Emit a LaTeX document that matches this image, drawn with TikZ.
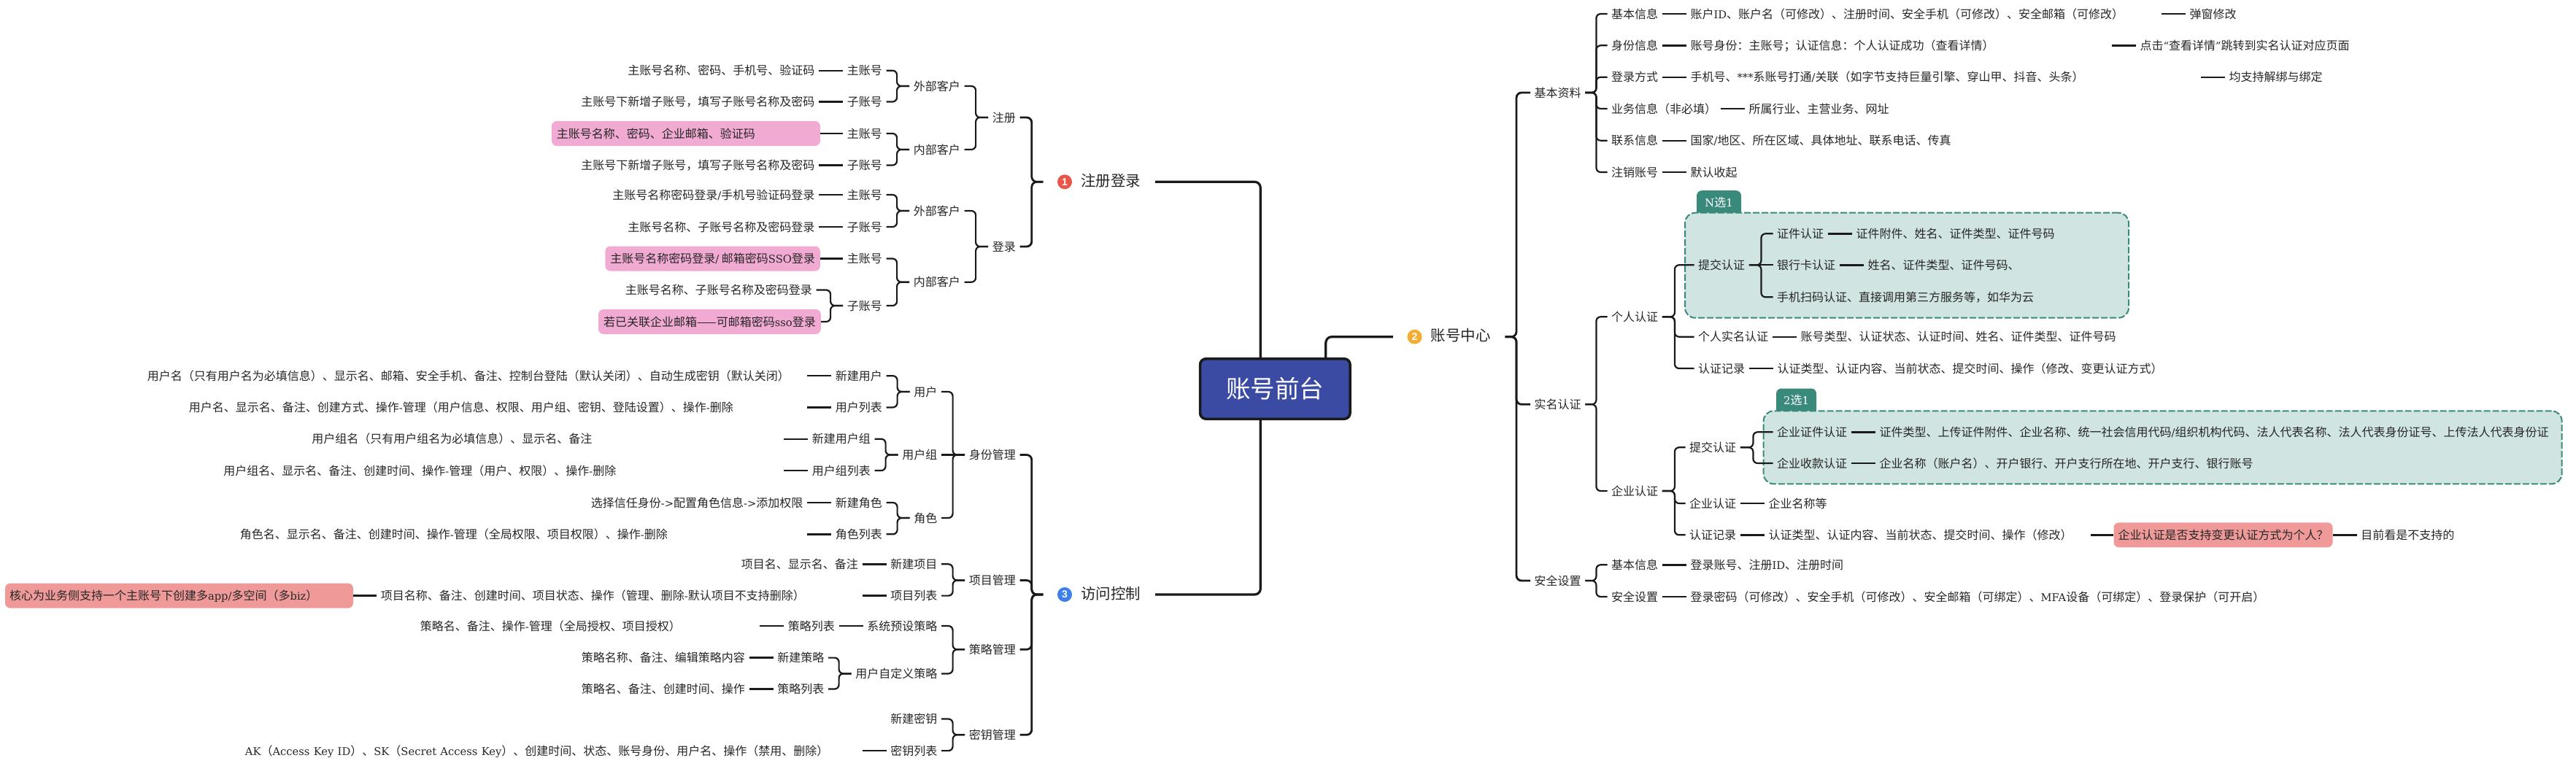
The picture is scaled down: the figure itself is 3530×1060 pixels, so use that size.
\documentclass[tikz,border=0pt]{standalone}
\usepackage{fontspec}
\setmainfont{Noto Sans CJK SC}
\newfontfamily\latf[Scale=0.92]{DejaVu Serif}
\newfontfamily\bulf{Liberation Sans}
\usetikzlibrary{positioning}
\definecolor{tc}{HTML}{262626}
\definecolor{lc}{HTML}{1A1A1A}
\definecolor{pkc}{HTML}{F1ABD3}
\definecolor{rdc}{HTML}{F09999}
\definecolor{grc}{HTML}{D0E4E1}
\definecolor{tagc}{HTML}{3A8A7C}
\definecolor{rootc}{HTML}{3B4BA3}
\definecolor{bua}{HTML}{E8574A}
\definecolor{bub}{HTML}{F5AD31}
\definecolor{buc}{HTML}{3F7FEA}
\newcommand{\lat}[1]{{\latf #1}}

\begin{document}
\begin{tikzpicture}[
  x=1pt, y=-1pt,
  font=\fontsize{16pt}{20pt}\selectfont,
  n/.style={align=left, inner xsep=5.5pt, inner ysep=2pt, text height=14pt, text depth=2pt, text=tc},
  tw/.style={text width=#1pt},
  pk/.style={n, fill=pkc, rounded corners=7pt, inner xsep=7pt, minimum height=34pt},
  rd/.style={n, fill=rdc, rounded corners=7pt, inner xsep=6pt, minimum height=34pt},
  big/.style={n, font=\fontsize{20.5pt}{24pt}\selectfont, inner xsep=19.5pt, anchor=east},
  bul/.style={circle, fill=#1, text=white, minimum size=20pt, inner sep=0pt, font=\bulf\bfseries\fontsize{14pt}{14pt}\selectfont},
  rootn/.style={fill=rootc, draw=lc, line width=3.5pt, rounded corners=8pt, text=white, minimum width=205.5pt, minimum height=82.5pt, font=\fontsize{33.5pt}{38pt}\selectfont},
  gr/.style={fill=grc, draw=tagc, line width=2pt, dash pattern=on 9pt off 3pt, rounded corners=14pt, inner sep=0pt},
  tag/.style={fill=tagc, text=white, rounded corners=7pt, anchor=north, inner xsep=0pt, inner ysep=8pt, text height=14pt, text depth=8pt},
  main/.style={draw=lc, line width=3.2pt, rounded corners=8pt},
  br1/.style={draw=lc, line width=2.8pt, rounded corners=7pt},
  br/.style={draw=lc, line width=2.2pt, rounded corners=6pt},
  arr/.style={draw=lc, line width=2.4pt}
]
\useasboundingbox (0,0) rectangle (3530,1060);

\node[tag, minimum width=61pt] (tag1) at (2355.5,261) {\lat{N}选\lat{1}};
\node[gr, minimum width=608pt, minimum height=144pt] (gr1) at (2613,363.7) {};
\node[tag, minimum width=55pt] (tag2) at (2461.5,532.3) {\lat{2}选\lat{1}};
\node[gr, minimum width=1094pt, minimum height=100pt] (gr2) at (2963.6,613.3) {};

\node[rootn] (root) at (1747.3,533) {账号前台};

\node[big] (zc) at (1583,249.3) {注册登录};
\node[bul=bua, left=-7.6pt of zc] (b1) {1};
\coordinate[left=19.5pt of b1] (s1);
\node[big] (fw) at (1583,815) {访问控制};
\node[bul=buc, left=-7.6pt of fw] (b3) {3};
\coordinate[left=19.5pt of b3] (s3);
\node[big] (zh) at (2062.5,461.7) {账号中心};
\node[bul=bub, left=-7.6pt of zh] (b2) {2};
\coordinate[left=19.5pt of b2] (s2);
\draw[main] ([xshift=-20pt]root.north) |- (zc.east);
\draw[main] ([xshift=-20pt]root.south) |- (fw.east);
\draw[main] ([xshift=69.5pt]root.north) |- (s2);

\node[n, anchor=east] (reg) at (1397.5,161) {注册};
\node[n, anchor=east] (dl) at (1397.5,338) {登录};
\foreach \ch in {reg,dl} \draw[br1] (s1) -- ++(-15.5,0) |- (\ch.east);
\node[n, anchor=east] (wb1) at (1321.5,118) {外部客户};
\node[n, anchor=east] (nb1) at (1321.5,205) {内部客户};
\node[n, anchor=east] (wb2) at (1321.5,289) {外部客户};
\node[n, anchor=east] (nb2) at (1321.5,386.7) {内部客户};
\foreach \ch in {wb1,nb1} \draw[br] (reg.west) -- ++(-17,0) |- (\ch.east);
\foreach \ch in {wb2,nb2} \draw[br] (dl.west) -- ++(-17,0) |- (\ch.east);
\node[n, anchor=east] (a1) at (1214.5,96.7) {主账号};
\node[n, anchor=east] (a2) at (1214.5,139.5) {子账号};
\node[n, anchor=east] (a3) at (1214.5,183) {主账号};
\node[n, anchor=east] (a4) at (1214.5,226.5) {子账号};
\node[n, anchor=east] (a5) at (1214.5,267) {主账号};
\node[n, anchor=east] (a6) at (1214.5,311) {子账号};
\node[n, anchor=east] (a7) at (1214.5,354.5) {主账号};
\node[n, anchor=east] (a8) at (1214.5,419) {子账号};
\foreach \ch in {a1,a2} \draw[br] (wb1.west) -- ++(-17,0) |- (\ch.east);
\foreach \ch in {a3,a4} \draw[br] (nb1.west) -- ++(-17,0) |- (\ch.east);
\foreach \ch in {a5,a6} \draw[br] (wb2.west) -- ++(-17,0) |- (\ch.east);
\foreach \ch in {a7,a8} \draw[br] (nb2.west) -- ++(-17,0) |- (\ch.east);
\node[n, left=33pt of a1] (d1) {主账号名称、密码、手机号、验证码};
\node[n, left=33pt of a2] (d2) {主账号下新增子账号，填写子账号名称及密码};
\node[pk, tw=354, left=31pt of a3] (d3) {主账号名称、密码、企业邮箱、验证码};
\node[n, left=33pt of a4] (d4) {主账号下新增子账号，填写子账号名称及密码};
\node[n, left=33pt of a5] (d5) {主账号名称密码登录\lat{/}手机号验证码登录};
\node[n, left=33pt of a6] (d6) {主账号名称、子账号名称及密码登录};
\node[pk, left=31pt of a7] (d7) {主账号名称密码登录\lat{/} 邮箱密码\lat{SSO}登录};
\foreach \k in {1,...,7} \draw[arr] (d\k) -- (a\k);
\node[n, anchor=east] (d8) at (1118.5,397.5) {主账号名称、子账号名称及密码登录};
\node[pk, anchor=east] (d9) at (1125,441) {若已关联企业邮箱——可邮箱密码\lat{sso}登录};
\foreach \ch in {d8,d9} \draw[br] (a8.west) -- ++(-17,0) |- (\ch.east);

\node[n, anchor=east] (sf) at (1397.5,623.5) {身份管理};
\node[n, anchor=east] (xm) at (1397.5,795.5) {项目管理};
\node[n, anchor=east] (cl) at (1397.5,890.3) {策略管理};
\node[n, anchor=east] (my) at (1397.5,1007.3) {密钥管理};
\foreach \ch in {sf,xm,cl,my} \draw[br1] (s3) -- ++(-15.5,0) |- (\ch.east);
\node[n, anchor=east] (yh) at (1290,537) {用户};
\node[n, anchor=east] (yhz) at (1290,623.5) {用户组};
\node[n, anchor=east] (js) at (1290,710) {角色};
\foreach \ch in {yh,js} \draw[br] (sf.west) -- ++(-16.5,0) |- (\ch.east);
\draw[br] (sf) -- (yhz);
\node[n, anchor=east] (xjyh) at (1214.5,515.2) {新建用户};
\node[n, anchor=east] (yhlb) at (1214.5,558.4) {用户列表};
\node[n, anchor=east] (xjz) at (1198.5,601.7) {新建用户组};
\node[n, anchor=east] (zlb) at (1198.5,645) {用户组列表};
\node[n, anchor=east] (xjjs) at (1214.5,689) {新建角色};
\node[n, anchor=east] (jslb) at (1214.5,732.3) {角色列表};
\foreach \ch in {xjyh,yhlb} \draw[br] (yh.west) -- ++(-17,0) |- (\ch.east);
\foreach \ch in {xjz,zlb} \draw[br] (yhz.west) -- ++(-17,0) |- (\ch.east);
\foreach \ch in {xjjs,jslb} \draw[br] (js.west) -- ++(-17,0) |- (\ch.east);
\node[n, tw=898.5, left=33pt of xjyh] (xjyhd) {用户名（只有用户名为必填信息）、显示名、邮箱、安全手机、备注、控制台登陆（默认关闭）、自动生成密钥（默认关闭）};
\node[n, tw=841.5, left=33pt of yhlb] (yhlbd) {用户名、显示名、备注、创建方式、操作\lat{-}管理（用户信息、权限、用户组、密钥、登陆设置）、操作\lat{-}删除};
\node[n, tw=641, left=33pt of xjz] (xjzd) {用户组名（只有用户组名为必填信息）、显示名、备注};
\node[n, tw=762, left=33pt of zlb] (zlbd) {用户组名、显示名、备注、创建时间、操作\lat{-}管理（用户、权限）、操作\lat{-}删除};
\node[n, left=33pt of xjjs] (xjjsd) {选择信任身份\lat{->}配置角色信息\lat{->}添加权限};
\node[n, tw=771.5, left=33pt of jslb] (jslbd) {角色名、显示名、备注、创建时间、操作\lat{-}管理（全局权限、项目权限）、操作\lat{-}删除};
\foreach \k in {xjyh,yhlb,xjz,zlb,xjjs,jslb} \draw[arr] (\k d) -- (\k);

\node[n, anchor=east] (xjxm) at (1290,773.3) {新建项目};
\node[n, anchor=east] (xmlb) at (1290,816.6) {项目列表};
\foreach \ch in {xjxm,xmlb} \draw[br] (xm.west) -- ++(-16.5,0) |- (\ch.east);
\node[n, left=33pt of xjxm] (xjxmd) {项目名、显示名、备注};
\node[n, tw=654, left=33pt of xmlb] (xmlbd) {项目名称、备注、创建时间、项目状态、操作（管理、删除\lat{-}默认项目不支持删除）};
\node[rd, tw=465, left=32pt of xmlbd] (hx) {核心为业务侧支持一个主账号下创建多\lat{app/}多空间（多\lat{biz}）};
\draw[arr] (xjxmd) -- (xjxm);
\draw[arr] (xmlbd) -- (xmlb);
\draw[arr] (hx) -- (xmlbd);

\node[n, anchor=east] (xt) at (1290,858) {系统预设策略};
\node[n, anchor=east] (zdy) at (1290,923.4) {用户自定义策略};
\foreach \ch in {xt,zdy} \draw[br] (cl.west) -- ++(-16.5,0) |- (\ch.east);
\node[n, left=33pt of xt] (cllb) {策略列表};
\node[n, tw=459.6, left=33pt of cllb] (cllbd) {策略名、备注、操作\lat{-}管理（全局授权、项目授权）};
\draw[arr] (cllb) -- (xt);
\draw[arr] (cllbd) -- (cllb);
\node[n, anchor=east] (xjcl) at (1135,901.6) {新建策略};
\node[n, anchor=east] (cllb2) at (1135,944.5) {策略列表};
\foreach \ch in {xjcl,cllb2} \draw[br] (zdy.west) -- ++(-17,0) |- (\ch.east);
\node[n, left=33pt of xjcl] (xjcld) {策略名称、备注、编辑策略内容};
\node[n, left=33pt of cllb2] (cllb2d) {策略名、备注、创建时间、操作};
\draw[arr] (xjcld) -- (xjcl);
\draw[arr] (cllb2d) -- (cllb2);

\node[n, anchor=east] (xjmy) at (1290,985.5) {新建密钥};
\node[n, anchor=east] (mylb) at (1290,1029.1) {密钥列表};
\foreach \ch in {xjmy,mylb} \draw[br] (my.west) -- ++(-16.5,0) |- (\ch.east);
\node[n, tw=840, left=33pt of mylb] (mylbd) {\lat{AK}（\lat{Access Key ID}）、\lat{SK}（\lat{Secret Access Key}）、创建时间、状态、账号身份、用户名、操作（禁用、删除）};
\draw[arr] (mylbd) -- (mylb);

\node[n, anchor=west] (jb) at (2097,127) {基本资料};
\node[n, anchor=west] (sm) at (2097,554.3) {实名认证};
\node[n, anchor=west] (aq) at (2097,796) {安全设置};
\foreach \ch in {jb,sm,aq} \draw[br1] (zh.east) -- ++(15.5,0) |- (\ch.west);

\node[n, anchor=west] (r1) at (2202.5,19) {基本信息};
\node[n, anchor=west] (r2) at (2202.5,62.3) {身份信息};
\node[n, anchor=west] (r3) at (2202.5,105.7) {登录方式};
\node[n, anchor=west] (r4) at (2202.5,149) {业务信息（非必填）};
\node[n, anchor=west] (r5) at (2202.5,192.7) {联系信息};
\node[n, anchor=west] (r6) at (2202.5,236) {注销账号};
\foreach \ch in {r1,r2,r3,r4,r5,r6} \draw[br] (jb.east) -- ++(15,0) |- (\ch.west);
\node[n, tw=639.5, right=33pt of r1] (r1d) {账户\lat{ID}、账户名（可修改）、注册时间、安全手机（可修改）、安全邮箱（可修改）};
\node[n, right=33pt of r1d] (r1e) {弹窗修改};
\node[n, tw=571.5, right=33pt of r2] (r2d) {账号身份：主账号；认证信息：个人认证成功（查看详情）};
\node[n, right=33pt of r2d] (r2e) {点击\lat{“}查看详情\lat{”}跳转到实名认证对应页面};
\node[n, tw=693.5, right=33pt of r3] (r3d) {手机号、\lat{***}系账号打通\lat{/}关联（如字节支持巨量引擎、穿山甲、抖音、头条）};
\node[n, right=33pt of r3d] (r3e) {均支持解绑与绑定};
\node[n, right=33pt of r4] (r4d) {所属行业、主营业务、网址};
\node[n, right=33pt of r5] (r5d) {国家\lat{/}地区、所在区域、具体地址、联系电话、传真};
\node[n, right=33pt of r6] (r6d) {默认收起};
\foreach \k in {1,...,6} \draw[arr] (r\k) -- (r\k d);
\foreach \k in {1,2,3} \draw[arr] (r\k d) -- (r\k e);

\node[n, anchor=west] (grz) at (2202.5,434.3) {个人认证};
\node[n, anchor=west] (qyz) at (2202.5,673) {企业认证};
\foreach \ch in {grz,qyz} \draw[br] (sm.east) -- ++(15,0) |- (\ch.west);
\node[n, anchor=west] (tj1) at (2321.5,363.3) {提交认证};
\node[n, anchor=west] (grsm) at (2321.5,461.7) {个人实名认证};
\node[n, anchor=west] (jl1) at (2321.5,505) {认证记录};
\foreach \ch in {tj1,grsm,jl1} \draw[br] (grz.east) -- ++(17,0) |- (\ch.west);
\node[n, right=33pt of grsm] (grsmd) {账号类型、认证状态、认证时间、姓名、证件类型、证件号码};
\node[n, right=33pt of jl1] (jl1d) {认证类型、认证内容、当前状态、提交时间、操作（修改、变更认证方式）};
\draw[arr] (grsm) -- (grsmd);
\draw[arr] (jl1) -- (jl1d);
\node[n, anchor=west] (zjrz) at (2429.5,320.3) {证件认证};
\node[n, anchor=west] (yhk) at (2429.5,363.3) {银行卡认证};
\node[n, anchor=west] (smrz) at (2429.5,407.3) {手机扫码认证、直接调用第三方服务等，如华为云};
\foreach \ch in {zjrz,smrz} \draw[br] (tj1.east) -- ++(16.5,0) |- (\ch.west);
\draw[br] (tj1) -- (yhk);
\node[n, right=33pt of zjrz] (zjrzd) {证件附件、姓名、证件类型、证件号码};
\node[n, right=33pt of yhk] (yhkd) {姓名、证件类型、证件号码、};
\draw[arr] (zjrz) -- (zjrzd);
\draw[arr] (yhk) -- (yhkd);

\node[n, anchor=west] (tj2) at (2309.5,613.3) {提交认证};
\node[n, anchor=west] (qyn) at (2309.5,690) {企业认证};
\node[n, anchor=west] (jl2) at (2309.5,733.3) {认证记录};
\foreach \ch in {tj2,qyn,jl2} \draw[br] (qyz.east) -- ++(17,0) |- (\ch.west);
\node[n, anchor=west] (qyzj) at (2429.5,592.3) {企业证件认证};
\node[n, anchor=west] (qysk) at (2429.5,635) {企业收款认证};
\foreach \ch in {qyzj,qysk} \draw[br] (tj2.east) -- ++(17.5,0) |- (\ch.west);
\node[n, right=33pt of qyzj] (qyzjd) {证件类型、上传证件附件、企业名称、统一社会信用代码\lat{/}组织机构代码、法人代表名称、法人代表身份证号、上传法人代表身份证};
\node[n, right=33pt of qysk] (qyskd) {企业名称（账户名）、开户银行、开户支行所在地、开户支行、银行账号};
\node[n, right=33pt of qyn] (qynd) {企业名称等};
\node[n, tw=435.5, right=33pt of jl2] (jl2d) {认证类型、认证内容、当前状态、提交时间、操作（修改）};
\node[rd, right=31.5pt of jl2d] (bg) {企业认证是否支持变更认证方式为个人？};
\node[n, right=33pt of bg] (bgd) {目前看是不支持的};
\draw[arr] (qyzj) -- (qyzjd);
\draw[arr] (qysk) -- (qyskd);
\draw[arr] (qyn) -- (qynd);
\draw[arr] (jl2) -- (jl2d);
\draw[arr] (jl2d) -- (bg);
\draw[arr] (bg) -- (bgd);

\node[n, anchor=west] (aq1) at (2202.5,774.3) {基本信息};
\node[n, anchor=west] (aq2) at (2202.5,818) {安全设置};
\foreach \ch in {aq1,aq2} \draw[br] (aq.east) -- ++(15,0) |- (\ch.west);
\node[n, right=33pt of aq1] (aq1d) {登录账号、注册\lat{ID}、注册时间};
\node[n, right=33pt of aq2] (aq2d) {登录密码（可修改）、安全手机（可修改）、安全邮箱（可绑定）、\lat{MFA}设备（可绑定）、登录保护（可开启）};
\draw[arr] (aq1) -- (aq1d);
\draw[arr] (aq2) -- (aq2d);
\end{tikzpicture}
\end{document}
